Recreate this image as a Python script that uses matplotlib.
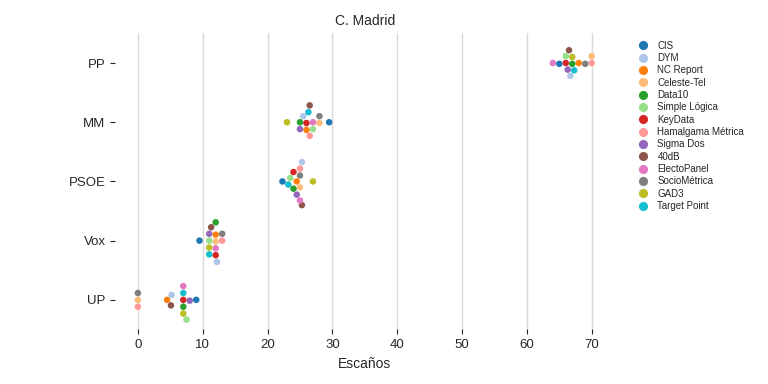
import numpy as np
import pandas as pd
import matplotlib
matplotlib.use("Agg")
import matplotlib.pyplot as plt
import seaborn as sns

# ── Datos ────────────────────────────────────────────────────────────────
partidos = ["PP", "MM", "PSOE", "Vox", "UP"]
encuestas = ["CIS", "DYM", "NC Report", "Celeste-Tel", "Data10", "Simple Lógica",
             "KeyData", "Hamalgama Métrica", "Sigma Dos", "40dB", "ElectoPanel",
             "SocioMétrica", "GAD3", "Target Point"]

# escaños por partido, en el orden de 'encuestas'
pp   = [65, 66.7, 68, 70, 67, 66, 66, 70, 66.3, 66.5, 64, 69, 67, 67.3]
mm   = [29.5, 25.5, 26, 28, 25, 27, 26, 26.5, 25, 26.5, 27, 28, 23, 26.3]
psoe = [22.3, 25.3, 24.5, 25, 24, 23.5, 24, 25, 24.5, 25.3, 25, 25, 27, 23.2]
vox  = [9.5, 12.2, 12, 12, 12, 11, 12, 13, 11, 11.3, 12, 13, 11, 11]
up   = [9, 5.2, 4.5, 0, 7, 7.5, 7, 0, 8, 5.1, 7, 0, 7, 7]

colores = ["#1f77b4", "#aec7e8", "#ff7f0e", "#ffbb78", "#2ca02c", "#98df8a",
           "#d62728", "#ff9896", "#9467bd", "#8c564b", "#e377c2", "#7f7f7f",
           "#bcbd22", "#17becf"]

df = pd.DataFrame({
    "Partido": np.repeat(partidos, len(encuestas)),
    "Encuesta": encuestas * len(partidos),
    "Escaños": pp + mm + psoe + vox + up,
})

# ── Figura ───────────────────────────────────────────────────────────────
sns.set_style("ticks")
plt.rcParams["font.family"] = ["Liberation Sans", "DejaVu Sans"]

fig = plt.figure(figsize=(7.68, 3.84), dpi=100)
ax = fig.add_axes([0.150, 0.142, 0.650, 0.771])

sns.swarmplot(data=df, x="Escaños", y="Partido", hue="Encuesta",
              order=partidos, hue_order=encuestas, palette=colores,
              size=4.7, ax=ax)

ax.grid(axis="x", color="#d9d9d9", linewidth=1)
ax.set_axisbelow(True)
sns.despine(ax=ax, left=True, bottom=True)
ax.set_ylabel("")
ax.set_xlabel("Escaños", fontsize=10, color=".15")
ax.set_title("C. Madrid", fontsize=10, color=".15")
ax.tick_params(labelsize=9.5, colors=".15")
ax.set_xticks(range(0, 80, 10))

ax.legend(loc="upper left", bbox_to_anchor=(1.02, 1.005), frameon=False,
          fontsize=7, labelspacing=0.24, handletextpad=0.5, markerscale=1.4)

plt.savefig("out.png", dpi=100)
